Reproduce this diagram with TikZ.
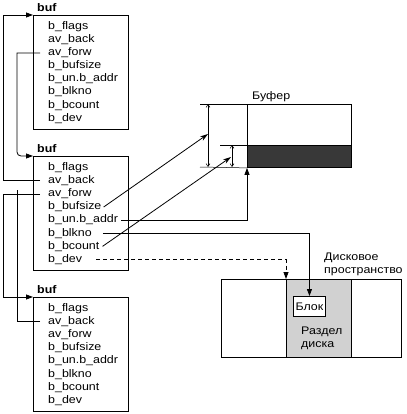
\documentclass[tikz,border=0pt]{standalone}
\usepackage{fontspec}
\setmainfont{Liberation Sans}[FakeStretch=1.13]
\usetikzlibrary{arrows.meta}
\begin{document}
\begin{tikzpicture}[x=1pt,y=-1pt,
  font=\fontsize{11}{13}\selectfont,
  bufbox/.style={draw, line width=0.9pt, minimum width=95pt, minimum height=114pt, anchor=north west, inner sep=0pt},
  row/.style={anchor=base west, inner xsep=2pt, inner ysep=0pt, text height=8pt, text depth=2.5pt},
  lab/.style={anchor=base west, inner sep=0pt, font=\fontsize{11}{13}\selectfont\bfseries},
  link/.style={line width=0.8pt},
  ptr/.style={line width=0.8pt, -{Triangle[length=7pt,width=5pt]}},
  diag/.style={line width=0.8pt, -{Stealth[length=8pt,width=5pt]}},
  dim/.style={line width=0.5pt, {Straight Barb[length=3pt,width=4pt]}-{Straight Barb[length=3pt,width=4pt]}},
  ext/.style={line width=0.5pt},
  plain/.style={draw, line width=0.9pt, anchor=north west, inner sep=0pt}
]
\useasboundingbox (0,0) rectangle (406,414);

% --- buffer headers ---
\foreach \b/\top in {1/15,2/156,3/297}{
  \node[bufbox] (b\b) at (33,\top) {};
  \node[lab] (b\b lab) at (37,{\top-3.5}) {buf};
  \foreach \nm/\tx [count=\k from 0] in {flags/b\_flags, avb/av\_back, avf/av\_forw, bsz/b\_bufsize, addr/b\_un.b\_addr, blk/b\_blkno, bct/b\_bcount, dev/b\_dev}{
    \node[row] (b\b\nm) at (46,{\top+14.5+\k*13.1}) {\tx};
  }
}

% --- free-list pointers ---
\coordinate (lane1) at (3,0);
\coordinate (lane2) at (17,0);
\coordinate (b3end) at (17,190);
\draw[ptr] ([xshift=-6pt]b1avf.west) -- (b1avf.west -| lane2) [rounded corners=4pt] |- (b2.north west);
\draw[ptr] ([xshift=-6pt]b2avb.west) -- (b2avb.west -| lane1) |- (b1.north west);
\draw[ptr] ([xshift=-6pt]b2avf.west) -- (b2avf.west -| lane1) |- (b3.north west);
\draw[link] ([xshift=-6pt]b3avb.west) -| (b3end);

% --- data buffer ---
\node[plain, minimum width=104pt, minimum height=63pt] (buffer) at (247,104) {};
\node[plain, fill=black!78, minimum width=104pt, minimum height=22pt, anchor=south west] (bufdata) at (buffer.south west) {};
\node[anchor=base west, inner sep=0pt] (buflab) at (252,100) {Буфер};

\coordinate (d1t) at (200,104);
\coordinate (d1b) at (200,167);
\coordinate (d2t) at (220,145);
\draw[ext] (d1t) -- (buffer.north west);
\draw[ext] (d1b) -- (buffer.south west);
\draw[ext] (d2t) -- (bufdata.north west);
\coordinate (dA1) at (208,104);
\coordinate (dA2) at (208,167);
\coordinate (dB1) at (232,145);
\coordinate (dB2) at (232,167);
\draw[dim] (dA1) -- (dA2);
\draw[dim] (dB1) -- (dB2);
\coordinate (dAm) at (208,134);
\coordinate (dBm) at (231,157);

\draw[diag] ([xshift=0pt]b2bsz.east) -- (dAm);
\draw[diag] ([xshift=1pt]b2bct.east) -- (dBm);
\draw[ptr] ([xshift=1pt]b2addr.east) -| (buffer.south west);

% --- disk ---
\node[plain, minimum width=180pt, minimum height=78pt] (disk) at (221,279) {};
\node[plain, fill=black!18, minimum width=65pt, minimum height=78pt] (section) at (286,279) {};
\node[plain, fill=white, minimum width=32pt, minimum height=20pt] (block) at (293,296) {Блок};
\node[anchor=north west, inner sep=0pt, align=left] (seclab) at (301,327) {Раздел\\диска};
\node[anchor=north west, inner sep=0pt, align=left] (disklab) at (324,253) {Дисковое\\пространство};

\draw[ptr] ([xshift=9pt]b2blk.east) -| (block.north);
\draw[ptr, dash pattern=on 4pt off 3pt] ([xshift=12pt]b2dev.east) -| (section.north west);
\end{tikzpicture}
\end{document}
